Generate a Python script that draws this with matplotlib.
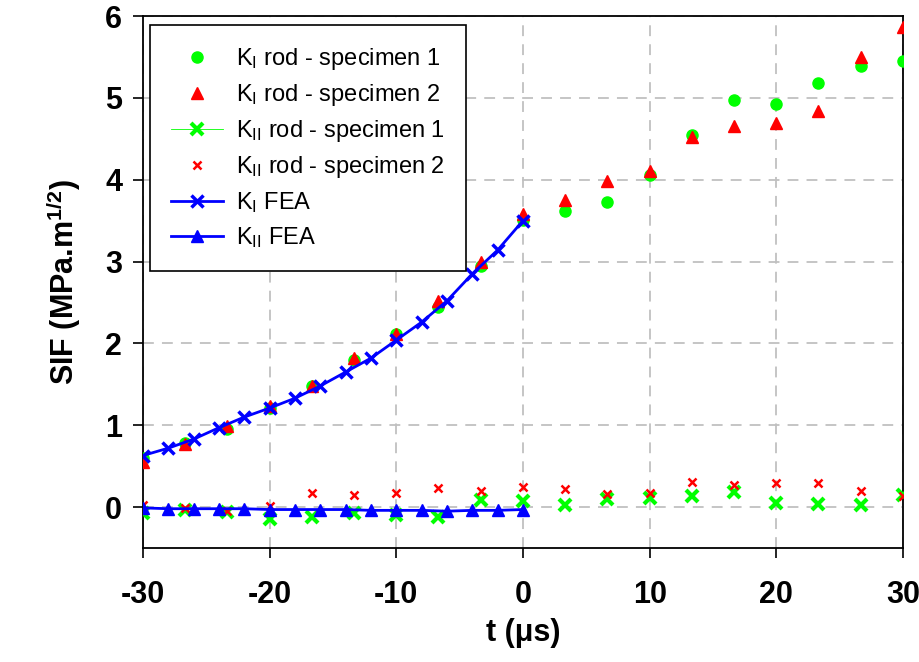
import matplotlib
matplotlib.use("Agg")
import matplotlib.pyplot as plt
from matplotlib.lines import Line2D
import numpy as np

plt.rcParams['font.family'] = ['Liberation Sans', 'DejaVu Sans']
plt.rcParams['mathtext.fontset'] = 'custom'
plt.rcParams['mathtext.rm'] = 'Liberation Sans'
plt.rcParams['mathtext.it'] = 'Liberation Sans:italic'
plt.rcParams['mathtext.bf'] = 'Liberation Sans:bold'
plt.rcParams['axes.unicode_minus'] = False

# experimental time steps (us)
t_exp = [-30, -26.67, -23.33, -20, -16.67, -13.33, -10, -6.67, -3.33, 0,
         3.33, 6.67, 10, 13.33, 16.67, 20, 23.33, 26.67, 30]
k1_spec1 = [0.60, 0.78, 0.95, 1.21, 1.48, 1.80, 2.11, 2.45, 2.94, 3.51,
            3.62, 3.73, 4.06, 4.55, 4.98, 4.93, 5.18, 5.39, 5.45]
k1_spec2 = [0.55, 0.77, 0.99, 1.23, 1.48, 1.82, 2.12, 2.52, 3.00, 3.58,
            3.75, 3.98, 4.11, 4.52, 4.66, 4.69, 4.84, 5.50, 5.86]
k2_spec1 = [-0.07, -0.03, -0.06, -0.15, -0.12, -0.07, -0.10, -0.12, 0.085, 0.07,
            0.03, 0.10, 0.11, 0.13, 0.19, 0.05, 0.04, 0.02, 0.15]
k2_spec2 = [0.02, -0.01, -0.05, 0.01, 0.17, 0.15, 0.17, 0.23, 0.20, 0.24,
            0.22, 0.155, 0.175, 0.31, 0.265, 0.29, 0.30, 0.195, 0.14]

# FEA results
t_fea = [-30, -28, -26, -24, -22, -20, -18, -16, -14, -12, -10, -8, -6, -4, -2, 0]
k1_fea = [0.63, 0.72, 0.83, 0.97, 1.10, 1.21, 1.33, 1.48, 1.65, 1.82,
          2.04, 2.26, 2.52, 2.85, 3.14, 3.50]
k2_fea = [-0.01, -0.02, -0.02, -0.02, -0.02, -0.03, -0.03, -0.03, -0.03, -0.04,
          -0.04, -0.04, -0.05, -0.04, -0.04, -0.03]

green = '#00FF00'
red = '#FF0000'
blue = '#0000FF'

fig = plt.figure(figsize=(9.2, 6.62), dpi=100)
ax = fig.add_axes([0.1554, 0.1722, 0.8261, 0.8036])

ax.plot(t_exp, k1_spec1, 'o', color=green, ms=8, zorder=3)
ax.plot(t_exp, k1_spec2, '^', color=red, ms=9, zorder=3)
ax.plot(t_exp, k2_spec1, 'x', color=green, ms=8, mew=3, zorder=3)
ax.plot(t_exp, k2_spec2, 'x', color=red, ms=6, mew=1.8, zorder=3)
ax.plot(t_fea, k1_fea, '-x', color=blue, lw=2, ms=9, mew=2.5, zorder=4)
ax.plot(t_fea, k2_fea, '-^', color=blue, lw=2, ms=8, zorder=4)

ax.set_xlim(-30, 30)
ax.set_ylim(-0.5, 6)
ax.set_xticks(np.arange(-30, 31, 10))
ax.set_yticks(np.arange(0, 7, 1))
ax.grid(True, color='#C0C0C0', linestyle=(0, (6, 4.5)), linewidth=1.3)
ax.set_axisbelow(True)
ax.tick_params(direction='out', length=7, width=1.2, labelsize=22, pad=8)
for lbl in ax.get_xticklabels() + ax.get_yticklabels():
    lbl.set_fontweight('bold')
for sp in ax.spines.values():
    sp.set_linewidth(1.3)
ax.xaxis.set_tick_params(pad=16)

ax.set_xlabel('t (μs)', fontsize=22, fontweight='bold', labelpad=6)
ax.set_ylabel(r'SIF (MPa.m$^{\mathbf{1/2}}$)', fontsize=22, fontweight='bold', labelpad=16)

handles = [
    Line2D([], [], ls='none', marker='o', color=green, ms=8),
    Line2D([], [], ls='none', marker='^', color=red, ms=9),
    Line2D([], [], ls='-', lw=0.6, marker='x', color=green, ms=8, mew=3),
    Line2D([], [], ls='none', marker='x', color=red, ms=6, mew=1.8),
    Line2D([], [], ls='-', lw=2, marker='x', color=blue, ms=9, mew=2.5),
    Line2D([], [], ls='-', lw=2, marker='^', color=blue, ms=8),
]
labels = [r'K$_{\rm I}$ rod - specimen 1', r'K$_{\rm I}$ rod - specimen 2',
          r'K$_{\rm II}$ rod - specimen 1', r'K$_{\rm II}$ rod - specimen 2',
          r'K$_{\rm I}$ FEA', r'K$_{\rm II}$ FEA']
leg = ax.legend(handles, labels, loc='upper left', bbox_to_anchor=(0.009, 0.983),
                borderaxespad=0, fontsize=17, frameon=True, fancybox=False,
                framealpha=1, edgecolor='black', handlelength=2.2,
                handletextpad=0.55, labelspacing=0.42, borderpad=0.9)
leg.get_frame().set_linewidth(1.2)
leg.set_zorder(10)

fig.savefig('out.png', dpi=100)
